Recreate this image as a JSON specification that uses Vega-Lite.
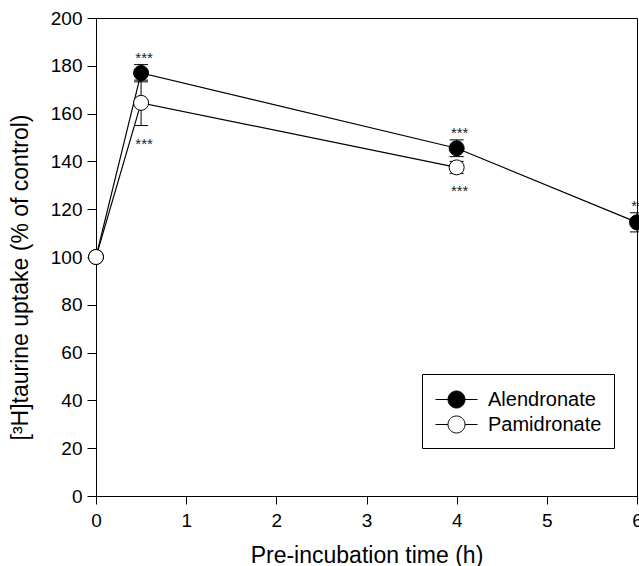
{
  "$schema": "https://vega.github.io/schema/vega-lite/v6.json",
  "width": 541,
  "height": 478,
  "autosize": {"type": "none"},
  "padding": {"left": 96, "top": 18, "right": 2, "bottom": 70},
  "background": "white",
  "config": {
    "view": {"stroke": "black", "strokeWidth": 1},
    "font": "Liberation Sans",
    "axis": {
      "domainColor": "black", "tickColor": "black", "labelColor": "black", "titleColor": "black",
      "grid": false, "labelFont": "Liberation Sans", "titleFont": "Liberation Sans",
      "labelFontSize": 19, "titleFontSize": 23, "titleFontWeight": "normal",
      "tickSize": 9, "labelPadding": 5, "domainWidth": 1, "tickWidth": 1
    }
  },
  "data": {
    "values": [
      {"series": "Alendronate", "time": 0, "value": 100, "lo": null, "hi": null, "sig": null},
      {"series": "Alendronate", "time": 0.5, "value": 177, "lo": 173.3, "hi": 180.5, "sig": "above"},
      {"series": "Alendronate", "time": 4, "value": 145.5, "lo": 142, "hi": 149, "sig": "above"},
      {"series": "Alendronate", "time": 6, "value": 114.5, "lo": 110.5, "hi": 118.5, "sig": "above"},
      {"series": "Pamidronate", "time": 0, "value": 100, "lo": null, "hi": null, "sig": null},
      {"series": "Pamidronate", "time": 0.5, "value": 164.5, "lo": 155, "hi": 174, "sig": "below"},
      {"series": "Pamidronate", "time": 4, "value": 137.5, "lo": 135, "hi": 140, "sig": "below"}
    ]
  },
  "encoding": {
    "x": {
      "field": "time", "type": "quantitative",
      "scale": {"domain": [0, 6], "nice": false, "zero": false},
      "axis": {
        "title": "Pre-incubation time (h)", "values": [0, 1, 2, 3, 4, 5, 6], "format": "d",
        "titleY": 66, "titleBaseline": "alphabetic", "tickSize": 8, "labelPadding": 7,
        "labelFlush": false, "labelOverlap": false
      }
    }
  },
  "layer": [
    {
      "mark": {"type": "line", "color": "black", "strokeWidth": 1.2},
      "encoding": {
        "y": {
          "field": "value", "type": "quantitative",
          "scale": {"domain": [0, 200], "nice": false},
          "axis": {
            "title": "[³H]taurine uptake (% of control)",
            "values": [0, 20, 40, 60, 80, 100, 120, 140, 160, 180, 200],
            "titleX": -76, "titleY": 259, "titleBaseline": "middle", "titleAngle": -90
          }
        },
        "detail": {"field": "series"}
      }
    },
    {
      "transform": [{"filter": "datum.lo != null"}],
      "mark": {"type": "rule", "color": "black", "strokeWidth": 1},
      "encoding": {
        "y": {"field": "lo", "type": "quantitative", "title": "[³H]taurine uptake (% of control)"},
        "y2": {"field": "hi"}
      }
    },
    {
      "transform": [{"filter": "datum.lo != null"}],
      "mark": {"type": "tick", "color": "black", "orient": "horizontal", "size": 14, "thickness": 1, "opacity": 1},
      "encoding": {
        "y": {"field": "lo", "type": "quantitative", "title": "[³H]taurine uptake (% of control)"}
      }
    },
    {
      "transform": [{"filter": "datum.lo != null"}],
      "mark": {"type": "tick", "color": "black", "orient": "horizontal", "size": 14, "thickness": 1, "opacity": 1},
      "encoding": {
        "y": {"field": "hi", "type": "quantitative", "title": "[³H]taurine uptake (% of control)"}
      }
    },
    {
      "mark": {"type": "point", "shape": "circle", "filled": true, "size": 225, "stroke": "black", "strokeWidth": 1, "opacity": 1},
      "encoding": {
        "y": {"field": "value", "type": "quantitative", "title": "[³H]taurine uptake (% of control)"},
        "fill": {
          "field": "series", "type": "nominal",
          "scale": {"domain": ["Alendronate", "Pamidronate"], "range": ["black", "white"]},
          "legend": {
            "orient": "none", "legendX": 326, "legendY": 356, "title": null,
            "fillColor": "white", "strokeColor": "black", "padding": 12,
            "symbolType": "M-0.654,0A0.654,0.654 0 1,0 0.654,0A0.654,0.654 0 1,0 -0.654,0Z M-1.615,0H-0.654 M0.654,0H1.615",
            "symbolSize": 676, "symbolStrokeColor": "black", "symbolStrokeWidth": 1,
            "symbolOffset": 9, "labelOffset": 18, "labelFontSize": 20, "labelFont": "Liberation Sans",
            "labelColor": "black", "rowPadding": 0, "cornerRadius": 0, "symbolOpacity": 1
          }
        }
      }
    },
    {
      "transform": [{"filter": "datum.sig == 'above'"}],
      "mark": {"type": "text", "text": "***", "fontSize": 15, "baseline": "alphabetic", "dy": -2, "dx": 3, "color": "#222"},
      "encoding": {
        "y": {"field": "hi", "type": "quantitative", "title": "[³H]taurine uptake (% of control)"}
      }
    },
    {
      "transform": [{"filter": "datum.sig == 'below'"}],
      "mark": {"type": "text", "text": "***", "fontSize": 15, "baseline": "alphabetic", "dy": 23, "dx": 3, "color": "#222"},
      "encoding": {
        "y": {"field": "lo", "type": "quantitative", "title": "[³H]taurine uptake (% of control)"}
      }
    }
  ]
}
